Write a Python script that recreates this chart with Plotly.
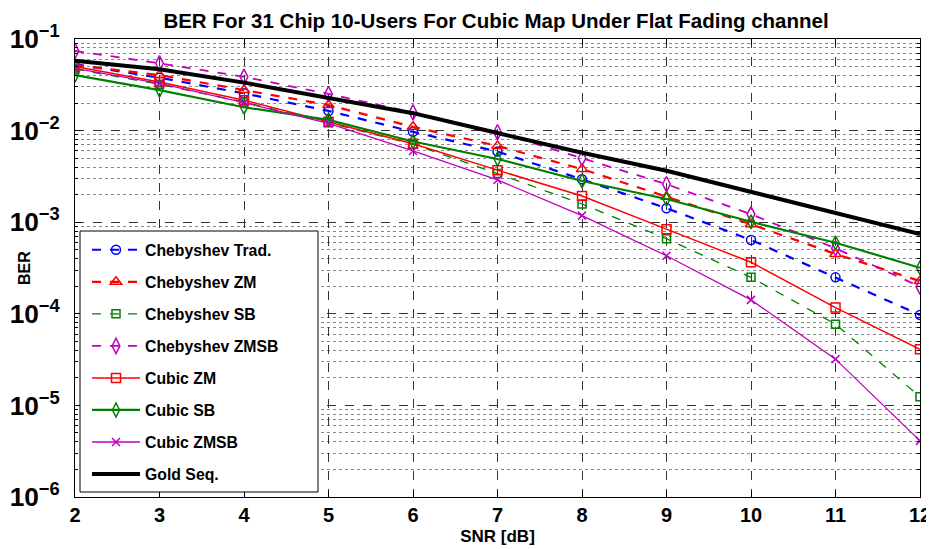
import plotly.graph_objects as go

snr = [2, 3, 4, 5, 6, 7, 8, 9, 10, 11, 12]

cheb_trad = [0.053, 0.0378, 0.0255, 0.0164, 0.0097, 0.0059, 0.00294, 0.00142, 6.4e-4, 2.5e-4, 9.7e-5]
cheb_zm = [0.052, 0.0404, 0.0277, 0.019, 0.011, 0.0068, 0.0038, 0.0019, 9.5e-4, 4.5e-4, 2.28e-4]
cheb_sb = [0.047, 0.032, 0.0205, 0.0122, 0.0071, 0.0034, 0.00158, 6.6e-4, 2.5e-4, 7.7e-5, 1.24e-5]
cheb_zmsb = [0.074, 0.0543, 0.0387, 0.0251, 0.0158, 0.0096, 0.005, 0.0026, 0.00122, 5.2e-4, 1.98e-4]
cubic_zm = [0.050, 0.034, 0.0215, 0.0125, 0.0072, 0.0037, 0.00193, 8.4e-4, 3.65e-4, 1.17e-4, 4.1e-5]
cubic_sb = [0.0404, 0.0277, 0.018, 0.0131, 0.0076, 0.0049, 0.00282, 0.00179, 1.01e-3, 5.97e-4, 3.18e-4]
cubic_zmsb = [0.0479, 0.0328, 0.0202, 0.012, 0.006, 0.00289, 0.00118, 4.3e-4, 1.42e-4, 3.2e-5, 4.1e-6]
gold_seq = [0.058, 0.0467, 0.0334, 0.0225, 0.0155, 0.0094, 0.00574, 0.00365, 0.00215, 0.00127, 7.4e-4]

FONT = "Liberation Sans, Arial, sans-serif"

series = [
    ("Chebyshev Trad.", cheb_trad, "#0000FF", "dash", 2.2, "circle-open", 9),
    ("Chebyshev ZM", cheb_zm, "#FF0000", "dash", 2.2, "triangle-up-open", 10),
    ("Chebyshev SB", cheb_sb, "#008000", "dash", 1.3, "square-open", 8),
    ("Chebyshev ZMSB", cheb_zmsb, "#BF00BF", "dash", 1.8, "diamond-tall-open", 11),
    ("Cubic ZM", cubic_zm, "#FF0000", "solid", 1.5, "square-open", 9),
    ("Cubic SB", cubic_sb, "#008000", "solid", 2.2, "diamond-tall-open", 10),
    ("Cubic ZMSB", cubic_zmsb, "#BF00BF", "solid", 1.3, "x-thin-open", 8),
]

# page body has an 8px margin: figure sits at (8, 8) in the window
OFF = 8
W, H = 934 - OFF, 549 - OFF
PL, PR, PT, PB = 75 - OFF, 920 - OFF, 39 - OFF, 497 - OFF
PW, PH = PR - PL, PB - PT

fig = go.Figure()
for i, (name, ys, col, dash, lw, sym, ms) in enumerate(series):
    fig.add_trace(go.Scatter(
        x=snr, y=ys, name=name, mode="lines+markers", legendgroup=f"g{i}",
        line=dict(color=col, dash=dash, width=lw),
        marker=dict(symbol=sym, size=ms, color=col, line=dict(color=col, width=1.5)),
    ))
fig.add_trace(go.Scatter(
    x=snr, y=gold_seq, name="Gold Seq.", mode="lines", legendgroup="g7",
    line=dict(color="black", width=4),
))

fig.add_shape(type="rect", xref="paper", yref="paper",
              x0=(80 - 75) / PW, x1=(318 - 75) / PW,
              y0=(497 - 492) / PH, y1=(497 - 231) / PH,
              line=dict(color="black", width=1), fillcolor="white", layer="above")

fig.add_annotation(text="BER", xref="paper", yref="paper",
                   x=(24 - 75) / PW, y=0.5, xanchor="center", yanchor="middle",
                   textangle=-90, showarrow=False,
                   font=dict(size=16, weight="bold", family=FONT))

fig.update_layout(
    width=W, height=H,
    margin=dict(l=PL, r=W - PR, t=PT, b=H - PB),
    paper_bgcolor="white", plot_bgcolor="white",
    font=dict(family=FONT, color="black"),
    title=dict(text="BER For 31 Chip 10-Users For Cubic Map Under Flat Fading channel",
               x=(496 - OFF) / W, xanchor="center", y=1 - 13 / H, yanchor="middle",
               font=dict(size=20.5, weight="bold", family=FONT)),
    showlegend=True,
    legend=dict(x=(87 - 75) / PW, y=(497 - 233) / PH, xanchor="left", yanchor="top",
                bgcolor="rgba(0,0,0,0)", borderwidth=0, tracegroupgap=8.5,
                font=dict(size=15.8, weight="bold", family=FONT), itemwidth=48),
    xaxis=dict(range=[2, 12], dtick=1, tick0=2, automargin=False,
               showline=True, linecolor="black", linewidth=1, mirror="ticks",
               ticks="inside", ticklen=6, tickcolor="black",
               showgrid=True, gridcolor="#333333", griddash="dash", gridwidth=1,
               zeroline=False,
               tickfont=dict(size=20, weight="bold", family=FONT),
               title=dict(text="SNR [dB]", font=dict(size=17, weight="bold", family=FONT), standoff=5)),
    yaxis=dict(type="log", range=[-6, -1], dtick=1, exponentformat="power", automargin=False,
               showline=True, linecolor="black", linewidth=1, mirror="ticks",
               ticks="inside", ticklen=6, tickcolor="black", ticklabelstandoff=10,
               showgrid=True, gridcolor="#333333", griddash="dash", gridwidth=1,
               zeroline=False,
               minor=dict(dtick="D1", ticks="inside", ticklen=3, tickcolor="black",
                          showgrid=True, gridcolor="#888888", griddash="dot", gridwidth=1),
               tickfont=dict(size=21, weight="bold", family=FONT)),
)

fig.write_html("out.html")
